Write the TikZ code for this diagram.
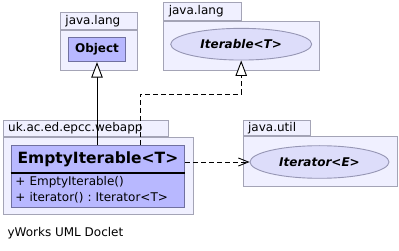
\documentclass[tikz,border=0pt]{standalone}
\usepackage{fontspec}
\setmainfont{DejaVu Sans}
\usepackage{tikz}
\usetikzlibrary{arrows.meta,positioning,shapes.geometric}
\usepackage{xcolor}
\definecolor{pkgfill}{RGB}{240,240,255}
\definecolor{pkgline}{RGB}{164,164,182}
\definecolor{classfill}{RGB}{184,184,255}
\definecolor{classline}{RGB}{112,112,160}
\definecolor{ifacefill}{RGB}{221,221,250}
\definecolor{ifaceline}{RGB}{150,150,180}
\frenchspacing

\begin{document}
\begin{tikzpicture}[x=1pt, y=-1pt, every node/.style={font=\fontsize{12}{14}\selectfont, inner sep=0pt},
    pkgtab/.style={draw=pkgline, fill=pkgfill, line width=0.9pt, anchor=north west, inner xsep=5pt},
    pkgbody/.style={draw=pkgline, fill=pkgfill, line width=0.9pt, anchor=north west},
    classbox/.style={draw=classline, fill=classfill, line width=0.9pt},
    iface/.style={ellipse, draw=ifaceline, fill=ifacefill, line width=0.9pt, font=\fontsize{12}{14}\selectfont\bfseries\itshape},
    inherit/.style={-{Triangle[length=15.5pt, width=11.5pt, fill=white]}, line width=0.9pt},
    realize/.style={inherit, dash pattern=on 5pt off 3pt},
    uses/.style={-{Straight Barb[length=10pt, width=8pt]}, line width=0.9pt, dash pattern=on 5pt off 3pt}]
    \useasboundingbox (0,0) rectangle (399,251);

    % java.lang with Object
    \node[pkgtab, text width=67, minimum height=17.6] (objtab) at (60,11.7) {java.lang};
    \node[pkgbody, minimum width=76.5, minimum height=40] (objpkg) at (objtab.south west) {};
    \node[classbox, minimum width=57.4, minimum height=24.4] (object) at (97,49.5) {\bfseries Object};

    % java.lang with Iterable
    \node[pkgtab, text width=67.4, minimum height=17.7] (itbtab) at (163.3,2.3) {java.lang};
    \node[pkgbody, minimum width=156, minimum height=49.3] (itbpkg) at (itbtab.south west) {};
    \node[iface, minimum width=141, minimum height=31.7] (iterable) at (241.2,44.2) {Iterable<T>};

    % the webapp package and its class
    \node[pkgtab, text width=155.6, minimum height=16] (apptab) at (2.7,120) {uk.ac.ed.epcc.webapp};
    \node[pkgbody, minimum width=190, minimum height=77.3] (apppkg) at (apptab.south west) {};
    \node[classbox, minimum width=173.6, minimum height=26.7, anchor=north west,
        font=\fontsize{15.5}{18}\selectfont\bfseries] (emptyit) at (10.7,145) {EmptyIterable<T>};
    \node[classbox, minimum width=173.6, minimum height=34, anchor=north, inner xsep=4.3pt,
        text width=165, align=left, font=\fontsize{12}{16}\selectfont] (emptyops) at (emptyit.south)
        {+ EmptyIterable()\\+ iterator() : Iterator<T>};
    \draw[line width=2pt] (emptyit.south west) -- (emptyit.south east);

    % java.util with Iterator
    \node[pkgtab, text width=57.3, minimum height=15.5] (utiltab) at (242.7,120) {java.util};
    \node[pkgbody, minimum width=154, minimum height=49.5] (utilpkg) at (utiltab.south west) {};
    \node[iface, minimum width=139, minimum height=32.6] (iterator) at (319.5,162) {Iterator<E>};

    % relations
    \coordinate (bend) at (140,94);
    \draw[inherit] (emptyit.north -| object) -- (object.south);
    \draw[realize] (emptyit.north -| bend) -- (bend) -| (iterable.south);
    \draw[uses] (emptyit.east |- iterator) -- (iterator.west);

    \node[anchor=west] (doclet) at (7.3,233) {yWorks UML Doclet};
\end{tikzpicture}
\end{document}
